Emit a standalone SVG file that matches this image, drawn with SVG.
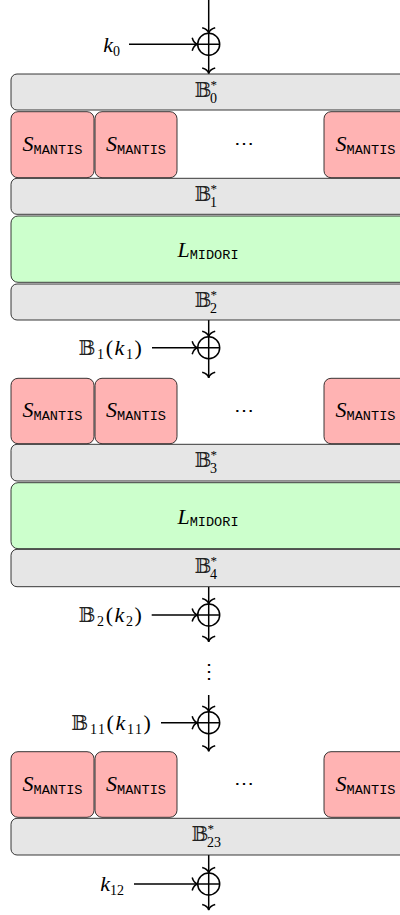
<svg xmlns="http://www.w3.org/2000/svg" width="400" height="915" viewBox="0 0 400 915">
  <style>
    .gray { fill: #e6e6e6; stroke: #222; stroke-width: 0.9; }
    .pink { fill: #ffb3b3; stroke: #222; stroke-width: 0.9; }
    .green { fill: #ccffcc; stroke: #222; stroke-width: 0.9; }
    .wire { fill: none; stroke: #000; stroke-width: 1.5; }
    .xor { fill: none; stroke: #000; stroke-width: 1.5; }
    .it { font-family: "Liberation Serif", "DejaVu Serif", serif; font-style: italic; font-size: 22px; fill: #000; }
    .rm { font-family: "Liberation Serif", "DejaVu Serif", serif; font-size: 14px; fill: #000; }
    .lbl { font-family: "Liberation Serif", "DejaVu Serif", serif; font-size: 22px; fill: #000; letter-spacing: 1.6px; }
    .bb { font-family: "DejaVu Serif", "DejaVu Sans", serif; font-size: 20px; fill: #222; }
    .tt { font-family: "Liberation Mono", "DejaVu Sans Mono", monospace; font-size: 13.6px; fill: #000; }
    .dots { font-family: "DejaVu Serif", serif; font-size: 20px; fill: #000; }
    .star { font-family: "Liberation Serif", "DejaVu Serif", serif; font-size: 13px; fill: #000; }
  </style>
  <defs>
    <marker id="to" markerUnits="userSpaceOnUse" markerWidth="16" markerHeight="16" refX="0" refY="0" orient="auto" overflow="visible">
      <path d="M -5.5,-6.5 Q -4,-1 0,0 Q -4,1 -5.5,6.5" fill="none" stroke="#000" stroke-width="1.5"/>
    </marker>
  </defs>

  <!-- connectors -->
  <g id="connectors">
    <line class="wire" x1="208.7" y1="0" x2="208.7" y2="33.3" marker-end="url(#to)"/>
    <line class="wire" x1="129" y1="44.3" x2="197.7" y2="44.3" marker-end="url(#to)"/>
    <line class="wire" x1="208.7" y1="55.3" x2="208.7" y2="73.5" marker-end="url(#to)"/>

    <line class="wire" x1="208.7" y1="320" x2="208.7" y2="336.7" marker-end="url(#to)"/>
    <line class="wire" x1="152" y1="347.7" x2="197.7" y2="347.7" marker-end="url(#to)"/>
    <line class="wire" x1="208.7" y1="358.7" x2="208.7" y2="377.8" marker-end="url(#to)"/>

    <line class="wire" x1="208.7" y1="586.7" x2="208.7" y2="604" marker-end="url(#to)"/>
    <line class="wire" x1="151.7" y1="615" x2="197.7" y2="615" marker-end="url(#to)"/>
    <line class="wire" x1="208.7" y1="626" x2="208.7" y2="641.7" marker-end="url(#to)"/>

    <line class="wire" x1="208.7" y1="695" x2="208.7" y2="711.7" marker-end="url(#to)"/>
    <line class="wire" x1="161" y1="722.7" x2="197.7" y2="722.7" marker-end="url(#to)"/>
    <line class="wire" x1="208.7" y1="733.7" x2="208.7" y2="751.2" marker-end="url(#to)"/>

    <line class="wire" x1="208.7" y1="855" x2="208.7" y2="873" marker-end="url(#to)"/>
    <line class="wire" x1="134" y1="884" x2="197.7" y2="884" marker-end="url(#to)"/>
    <line class="wire" x1="208.7" y1="895" x2="208.7" y2="910" marker-end="url(#to)"/>
  </g>

  <!-- key additions -->
  <g id="xor0"><circle class="xor" cx="208.7" cy="44.3" r="11"/><path class="xor" d="M197.7,44.3 H219.7 M208.7,33.3 V55.3"/></g>
  <g id="xor1"><circle class="xor" cx="208.7" cy="347.7" r="11"/><path class="xor" d="M197.7,347.7 H219.7 M208.7,336.7 V358.7"/></g>
  <g id="xor2"><circle class="xor" cx="208.7" cy="615" r="11"/><path class="xor" d="M197.7,615 H219.7 M208.7,604 V626"/></g>
  <g id="xor11"><circle class="xor" cx="208.7" cy="722.7" r="11"/><path class="xor" d="M197.7,722.7 H219.7 M208.7,711.7 V733.7"/></g>
  <g id="xor12"><circle class="xor" cx="208.7" cy="884" r="11"/><path class="xor" d="M197.7,884 H219.7 M208.7,873 V895"/></g>

  <!-- round keys -->
  <g id="key0"><text class="it" x="120" y="51.5" text-anchor="end">k<tspan class="rm" font-style="normal" dy="4">0</tspan></text></g>
  <g id="key1"><text class="lbl" x="143.5" y="355" text-anchor="end"><tspan class="bb">𝔹</tspan><tspan class="rm" dy="4">1</tspan><tspan dy="-4">(</tspan><tspan class="it">k</tspan><tspan class="rm" dy="4">1</tspan><tspan dy="-4">)</tspan></text></g>
  <g id="key2"><text class="lbl" x="143.5" y="622.3" text-anchor="end"><tspan class="bb">𝔹</tspan><tspan class="rm" dy="4">2</tspan><tspan dy="-4">(</tspan><tspan class="it">k</tspan><tspan class="rm" dy="4">2</tspan><tspan dy="-4">)</tspan></text></g>
  <g id="key11"><text class="lbl" x="152.5" y="730" text-anchor="end"><tspan class="bb">𝔹</tspan><tspan class="rm" dy="4">11</tspan><tspan dy="-4">(</tspan><tspan class="it">k</tspan><tspan class="rm" dy="4">11</tspan><tspan dy="-4">)</tspan></text></g>
  <g id="key12"><text class="it" x="124" y="891" text-anchor="end">k<tspan class="rm" font-style="normal" dy="4">12</tspan></text></g>

  <!-- bit permutations -->
  <g id="perm0"><rect class="gray" x="11" y="74" width="420" height="36" rx="6"/>
    <text class="bb" x="194.5" y="96.5">𝔹</text><text class="rm" x="210" y="102.5">0</text><text class="star" x="210.5" y="88.5">*</text></g>
  <g id="perm1"><rect class="gray" x="11" y="178.3" width="420" height="36" rx="6"/>
    <text class="bb" x="194.5" y="200.8">𝔹</text><text class="rm" x="210" y="206.8">1</text><text class="star" x="210.5" y="192.8">*</text></g>
  <g id="perm2"><rect class="gray" x="11" y="284" width="420" height="36" rx="6"/>
    <text class="bb" x="194.5" y="306.5">𝔹</text><text class="rm" x="210" y="312.5">2</text><text class="star" x="210.5" y="298.5">*</text></g>
  <g id="perm3"><rect class="gray" x="11" y="444.3" width="420" height="36.7" rx="6"/>
    <text class="bb" x="194.5" y="467.1">𝔹</text><text class="rm" x="210" y="473.1">3</text><text class="star" x="210.5" y="459.1">*</text></g>
  <g id="perm4"><rect class="gray" x="11" y="549.3" width="420" height="37.4" rx="6"/>
    <text class="bb" x="194.5" y="572.5">𝔹</text><text class="rm" x="210" y="578.5">4</text><text class="star" x="210.5" y="564.5">*</text></g>
  <g id="perm23"><rect class="gray" x="11" y="818.3" width="420" height="36.7" rx="6"/>
    <text class="bb" x="191.5" y="841.1">𝔹</text><text class="rm" x="207" y="847.1">23</text><text class="star" x="207.5" y="833.1">*</text></g>

  <!-- S-box layers -->
  <g id="sbox1">
    <rect class="pink" x="11" y="111.7" width="83" height="66" rx="7"/>
    <text x="52.5" y="151" text-anchor="middle"><tspan class="it">S</tspan><tspan class="tt" dy="3">MANTIS</tspan></text>
    <rect class="pink" x="95" y="111.7" width="82" height="66" rx="7"/>
    <text x="136" y="151" text-anchor="middle"><tspan class="it">S</tspan><tspan class="tt" dy="3">MANTIS</tspan></text>
    <text class="dots" x="243.5" y="150" text-anchor="middle">⋯</text>
    <rect class="pink" x="324" y="111.7" width="83" height="66" rx="7"/>
    <text x="365.5" y="151" text-anchor="middle"><tspan class="it">S</tspan><tspan class="tt" dy="3">MANTIS</tspan></text>
  </g>
  <g id="sbox2">
    <rect class="pink" x="11" y="378.3" width="83" height="65.4" rx="7"/>
    <text x="52.5" y="417" text-anchor="middle"><tspan class="it">S</tspan><tspan class="tt" dy="3">MANTIS</tspan></text>
    <rect class="pink" x="95" y="378.3" width="82" height="65.4" rx="7"/>
    <text x="136" y="417" text-anchor="middle"><tspan class="it">S</tspan><tspan class="tt" dy="3">MANTIS</tspan></text>
    <text class="dots" x="243.5" y="416.5" text-anchor="middle">⋯</text>
    <rect class="pink" x="324" y="378.3" width="83" height="65.4" rx="7"/>
    <text x="365.5" y="417" text-anchor="middle"><tspan class="it">S</tspan><tspan class="tt" dy="3">MANTIS</tspan></text>
  </g>
  <g id="sbox3">
    <rect class="pink" x="11" y="751.7" width="83" height="65.6" rx="7"/>
    <text x="52.5" y="790.5" text-anchor="middle"><tspan class="it">S</tspan><tspan class="tt" dy="3">MANTIS</tspan></text>
    <rect class="pink" x="95" y="751.7" width="82" height="65.6" rx="7"/>
    <text x="136" y="790.5" text-anchor="middle"><tspan class="it">S</tspan><tspan class="tt" dy="3">MANTIS</tspan></text>
    <text class="dots" x="243.5" y="790" text-anchor="middle">⋯</text>
    <rect class="pink" x="324" y="751.7" width="83" height="65.6" rx="7"/>
    <text x="365.5" y="790.5" text-anchor="middle"><tspan class="it">S</tspan><tspan class="tt" dy="3">MANTIS</tspan></text>
  </g>

  <!-- linear layers -->
  <g id="linear1"><rect class="green" x="11" y="216" width="420" height="66.3" rx="7"/>
    <text x="208" y="257" text-anchor="middle"><tspan class="it">L</tspan><tspan class="tt" dy="2">MIDORI</tspan></text></g>
  <g id="linear2"><rect class="green" x="11" y="482.7" width="420" height="66" rx="7"/>
    <text x="208" y="523.5" text-anchor="middle"><tspan class="it">L</tspan><tspan class="tt" dy="2">MIDORI</tspan></text></g>

  <!-- omitted rounds -->
  <text class="dots" x="208.7" y="678" text-anchor="middle" font-size="26px">⋮</text>
</svg>
